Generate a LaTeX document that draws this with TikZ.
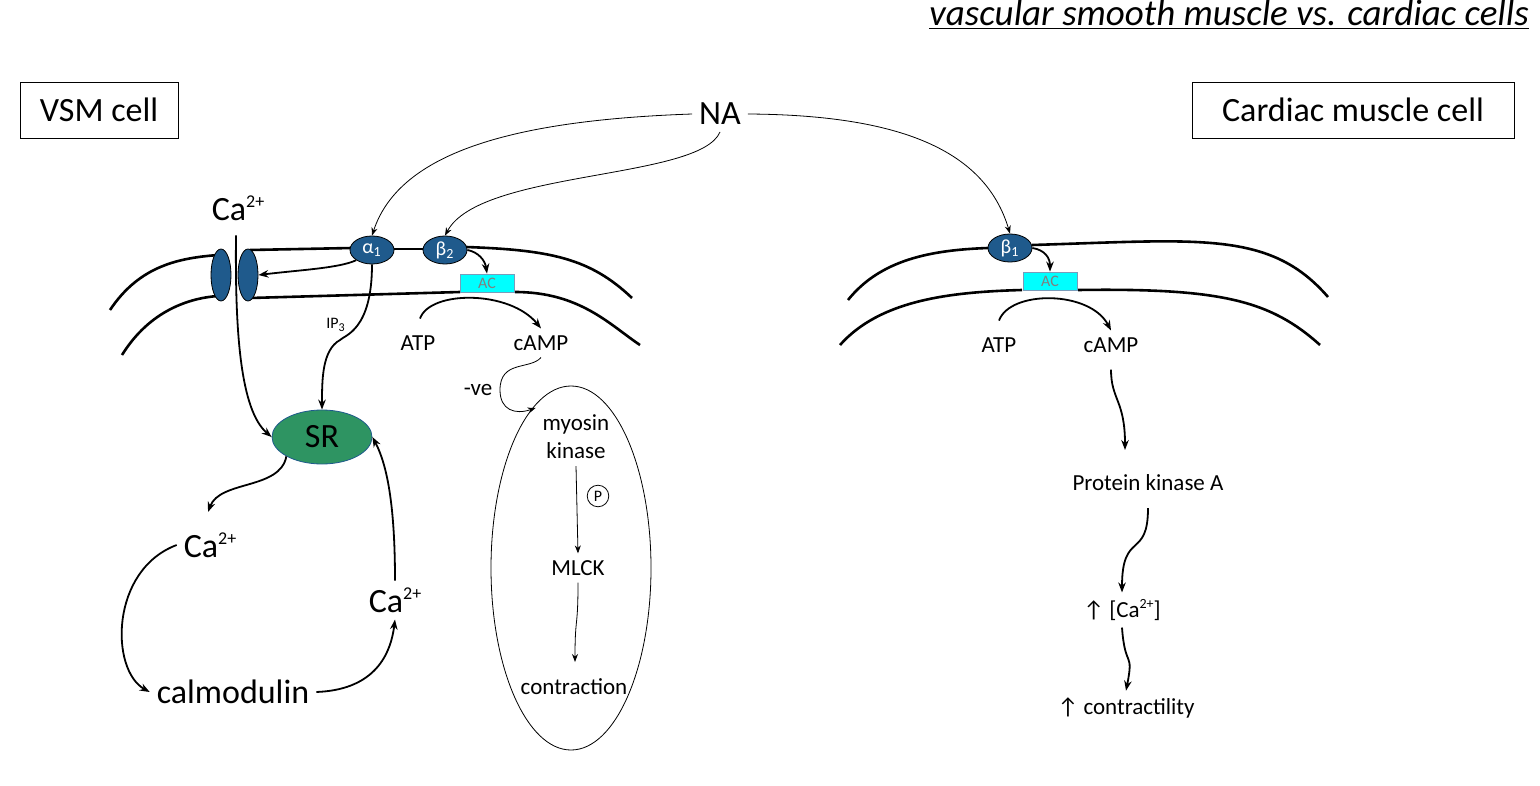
\documentclass[tikz,border=0pt]{standalone}
\usepackage{fontspec}
\setmainfont{Carlito}
\usetikzlibrary{arrows.meta}
\definecolor{rblue}{HTML}{1F5A8C}
\definecolor{srgreen}{HTML}{2E9462}
\definecolor{accyan}{HTML}{00FFFF}
\newcommand{\sups}[1]{\raisebox{0.38em}{\fontsize{9}{9}\selectfont #1}}
\tikzset{
  mem/.style={line width=1.3pt},
  rec/.style={ellipse,draw=black,fill=rblue,text=white,inner sep=0pt,minimum width=22pt,minimum height=14pt,font=\fontsize{10}{10}\selectfont},
  acbox/.style={draw=rblue!60,fill=accyan,text=gray,minimum width=27pt,minimum height=9pt,inner sep=0pt,font=\fontsize{8}{8}\selectfont},
  big/.style={font=\fontsize{17}{17}\selectfont},
  mid/.style={font=\fontsize{11.5}{14}\selectfont,align=center},
  thin/.style={-{Stealth[length=4pt]},line width=0.4pt},
  thick/.style={-{Stealth[length=5pt]},line width=0.9pt}
}
\usetikzlibrary{shapes.geometric}
\begin{document}
\begin{tikzpicture}[x=0.5pt,y=-0.5pt]
\useasboundingbox (0,0) rectangle (1540,786);
\node[font=\fontsize{18.5}{18.5}\selectfont,anchor=east] (title) at (1536,15) {\itshape\underline{vascular smooth muscle vs. cardiac cells}};
\node[big,draw,minimum width=79pt,minimum height=28pt] (vsm) at (99,110) {VSM cell};
\node[big,draw,minimum width=161pt,minimum height=28pt] (card) at (1353,110) {Cardiac muscle cell};
\node[big] (na) at (720,114) {NA};
% left membrane
\draw[mem] (110,310) .. controls (140,265) and (180,258) .. (218,255);
\draw[mem] (250,250) -- (352,248);
\draw[mem] (394,249) -- (426,249);
\draw[mem] (466,247) .. controls (550,250) and (590,258) .. (632,298);
\draw[mem] (122,355) .. controls (150,310) and (190,298) .. (218,296);
\draw[mem] (250,298) -- (460,292);
\draw[mem] (515,292) .. controls (580,292) and (610,325) .. (640,345);
\node[ellipse,draw,fill=rblue,minimum width=10pt,minimum height=26pt,inner sep=0pt] (ch1) at (221,275) {};
\node[ellipse,draw,fill=rblue,minimum width=10pt,minimum height=26pt,inner sep=0pt] (ch2) at (248,275) {};
\node[rec] (a1) at (372,250) {α\textsubscript{1}};
\node[rec] (b2) at (445,250) {β\textsubscript{2}};
\node[acbox] (ac1) at (487,283) {AC};
\node[big] (catop) at (238,208) {Ca\sups{2+}};
\node[ellipse,draw=rblue,fill=srgreen,minimum width=50pt,minimum height=27pt,big] (sr) at (322,437) {SR};
\node[font=\fontsize{8}{8}\selectfont] (ip3) at (336,325) {IP\textsubscript{3}};
\node[mid] (atp1) at (418,343) {ATP};
\node[mid] (camp1) at (541,343) {cAMP};
\node[mid] (ve) at (478,390) {-ve};
\draw (571,568) ellipse (40pt and 91pt);
\node[mid] (mk) at (576,437) {myosin\\kinase};
\node[circle,draw,inner sep=1.5pt,font=\fontsize{8}{8}\selectfont] (p) at (598,496) {P};
\node[mid] (mlck) at (578,568) {MLCK};
\node[mid] (contr) at (574,687) {contraction};
\node[big] (ca2) at (210,545) {Ca\sups{2+}};
\node[big] (calm) at (233,692) {calmodulin};
\node[big] (ca3) at (395,600) {Ca\sups{2+}};
% arrows left
\draw[thin] (na.west) .. controls (520,120) and (400,150) .. (a1.north);
\draw[thin] (na.south) .. controls (700,180) and (480,170) .. (b2.north);
\draw[thick] (a1.south west) .. controls (340,268) and (300,270) .. (ch2.east);
\draw[thick] (a1.south) .. controls (372,330) and (345,335) .. (340,340) .. controls (322,350) and (322,380) .. (sr.north);
\draw[thick] (catop.south) ++(-2,8) .. controls (235,330) and (240,410) .. (sr.west);
\draw[thick] (b2.east) .. controls (478,252) and (485,260) .. (ac1.north);
\draw[thick] (atp1.north) ++(2,-10) .. controls (430,290) and (510,290) .. (camp1.north);
\draw[thin] (camp1.south) .. controls (530,370) and (500,360) .. (500,390) .. controls (500,410) and (515,415) .. (mk.north west);
\draw[thin] (mk.south) -- (mlck.north);
\draw[thin] (mlck.south) .. controls (578,630) and (575,615) .. (575,662);
\draw[thick] (sr.south west) .. controls (280,490) and (220,480) .. (208,512);
\draw[thick] (ca2.west) .. controls (110,570) and (110,670) .. (calm.west);
\draw[thick] (calm.east) .. controls (370,690) and (390,660) .. (ca3.south);
\draw[thick] (ca3.north) .. controls (395,520) and (390,470) .. (sr.east);
% right membrane
\draw[mem] (848,300) .. controls (880,260) and (930,250) .. (988,248);
\draw[mem] (1032,245) .. controls (1200,240) and (1270,230) .. (1328,297);
\draw[mem] (840,345) .. controls (880,300) and (950,292) .. (1022,290);
\draw[mem] (1078,290) .. controls (1220,288) and (1270,300) .. (1320,345);
\node[rec] (b1) at (1010,248) {β\textsubscript{1}};
\node[acbox] (ac2) at (1050,281) {AC};
\node[mid] (atp2) at (999,345) {ATP};
\node[mid] (camp2) at (1111,345) {cAMP};
\node[mid] (pka) at (1148,483) {Protein kinase A};
\node[mid] (ca4) at (1122,610) {↑ [Ca\raisebox{0.38em}{\fontsize{7}{7}\selectfont 2+}]};
\node[mid] (ctr) at (1126,708) {↑ contractility};
\draw[thin] (na.east) .. controls (900,115) and (985,150) .. (b1.north);
\draw[thick] (b1.east) .. controls (1045,250) and (1050,258) .. (ac2.north);
\draw[thick] (atp2.north) ++(0,-10) .. controls (1010,290) and (1090,290) .. (camp2.north);
\draw[thick] (camp2.south) ++(0,10) .. controls (1111,400) and (1125,400) .. (1125,450);
\draw[thick] (pka.south) ++(0,10) .. controls (1148,560) and (1122,530) .. (ca4.north);
\draw[thick] (ca4.south) .. controls (1125,670) and (1134,650) .. (ctr.north);
\end{tikzpicture}
\end{document}
